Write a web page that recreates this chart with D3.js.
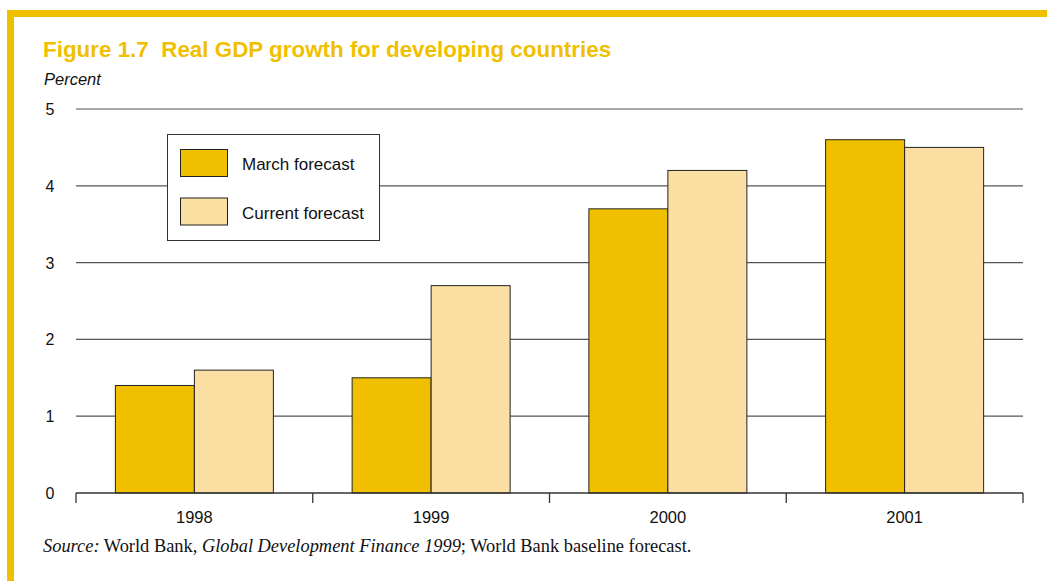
<!DOCTYPE html>
<html>
<head>
<meta charset="utf-8">
<script src="https://cdn.jsdelivr.net/npm/d3@7"></script>
<style>
  html, body { margin: 0; padding: 0; background: #fff; }
  svg { display: block; }
  text { white-space: pre; }
</style>
</head>
<body>
<svg id="chart" width="1047" height="581"></svg>
<script>
// Data
const years = ["1998", "1999", "2000", "2001"];
const seriesNames = ["March forecast", "Current forecast"];
const marchForecast = [1.4, 1.5, 3.7, 4.6];
const currentForecast = [1.6, 2.7, 4.2, 4.5];
const yTicks = [0, 1, 2, 3, 4, 5];

const colors = { "March forecast": "#F0C000", "Current forecast": "#FBDFA2" };
const gold = "#F0C000";
const sans = "Liberation Sans, Arial, sans-serif";

const svg = d3.select("#chart");

// Frame: gold rule along the top and left edges
svg.append("rect").attr("x", 7).attr("y", 10).attr("width", 1040).attr("height", 7).attr("fill", gold);
svg.append("rect").attr("x", 7).attr("y", 10).attr("width", 7).attr("height", 571).attr("fill", gold);

// Title & unit label
svg.append("text").attr("x", 43).attr("y", 57)
  .attr("font-family", sans)
  .attr("font-weight", "bold").attr("font-size", 22.4).attr("fill", gold)
  .text("Figure 1.7  Real GDP growth for developing countries");
svg.append("text").attr("x", 44).attr("y", 85)
  .attr("font-family", sans)
  .attr("font-style", "italic").attr("font-size", 16.5).attr("fill", "#111")
  .text("Percent");

const x0 = 76, x1 = 1023, yBottom = 493, yTop = 109;

const x = d3.scaleBand().domain(years).range([x0, x1]);
const y = d3.scaleLinear().domain([0, 5]).range([yBottom, yTop]);
const inner = d3.scaleBand().domain(seriesNames).range([0, 158]);
const groupOffset = (x.bandwidth() - 158) / 2;

// Gridlines
svg.append("g").selectAll("line").data(yTicks.filter(d => d > 0)).join("line")
  .attr("x1", x0).attr("x2", x1)
  .attr("y1", d => y(d)).attr("y2", d => y(d))
  .attr("stroke", "#555").attr("stroke-width", 1.2);

// Y tick labels
svg.append("g").selectAll("text").data(yTicks).join("text")
  .attr("x", 50).attr("y", d => y(d) + 6)
  .attr("text-anchor", "middle")
  .attr("font-family", sans)
  .attr("font-size", 16).attr("fill", "#111")
  .text(d => d);

// Bars
const rows = years.map((yr, i) => ({ year: yr, values: [
  { name: seriesNames[0], value: marchForecast[i] },
  { name: seriesNames[1], value: currentForecast[i] }
]}));

const groups = svg.append("g").selectAll("g").data(rows).join("g")
  .attr("transform", d => `translate(${x(d.year) + groupOffset},0)`);
groups.selectAll("rect").data(d => d.values).join("rect")
  .attr("x", d => inner(d.name))
  .attr("y", d => y(d.value))
  .attr("width", inner.bandwidth())
  .attr("height", d => yBottom - y(d.value))
  .attr("fill", d => colors[d.name])
  .attr("stroke", "#222").attr("stroke-width", 1);

// X axis line with boundary ticks
svg.append("line").attr("x1", x0).attr("x2", x1).attr("y1", yBottom).attr("y2", yBottom)
  .attr("stroke", "#333").attr("stroke-width", 1.3);
const boundaries = years.map(d => x(d)).concat([x1]);
svg.append("g").selectAll("line").data(boundaries).join("line")
  .attr("x1", d => d).attr("x2", d => d)
  .attr("y1", yBottom).attr("y2", yBottom + 10)
  .attr("stroke", "#333").attr("stroke-width", 1.3);

// Category labels
svg.append("g").selectAll("text").data(years).join("text")
  .attr("x", d => x(d) + x.bandwidth() / 2).attr("y", 523)
  .attr("text-anchor", "middle")
  .attr("font-family", sans)
  .attr("font-size", 16.5).attr("fill", "#111")
  .text(d => d);

// Legend
const legend = svg.append("g");
legend.append("rect").attr("x", 167.5).attr("y", 134.5).attr("width", 212).attr("height", 106)
  .attr("fill", "#fff").attr("stroke", "#333").attr("stroke-width", 1);
seriesNames.forEach((name, i) => {
  legend.append("rect").attr("x", 180.5).attr("y", 149.5 + i * 48.5).attr("width", 47).attr("height", 27)
    .attr("fill", colors[name]).attr("stroke", "#222").attr("stroke-width", 1);
  legend.append("text").attr("x", 242).attr("y", 170 + i * 48.5)
    .attr("font-family", sans)
    .attr("font-size", 17).attr("fill", "#111")
    .text(name);
});

// Source note
const src = svg.append("text").attr("x", 43).attr("y", 552)
  .attr("font-family", "Liberation Serif, Times New Roman, serif")
  .attr("font-size", 18.4).attr("fill", "#111");
src.append("tspan").attr("font-style", "italic").text("Source:");
src.append("tspan").text(" World Bank, ");
src.append("tspan").attr("font-style", "italic").text("Global Development Finance 1999");
src.append("tspan").text("; World Bank baseline forecast.");
</script>
</body>
</html>
